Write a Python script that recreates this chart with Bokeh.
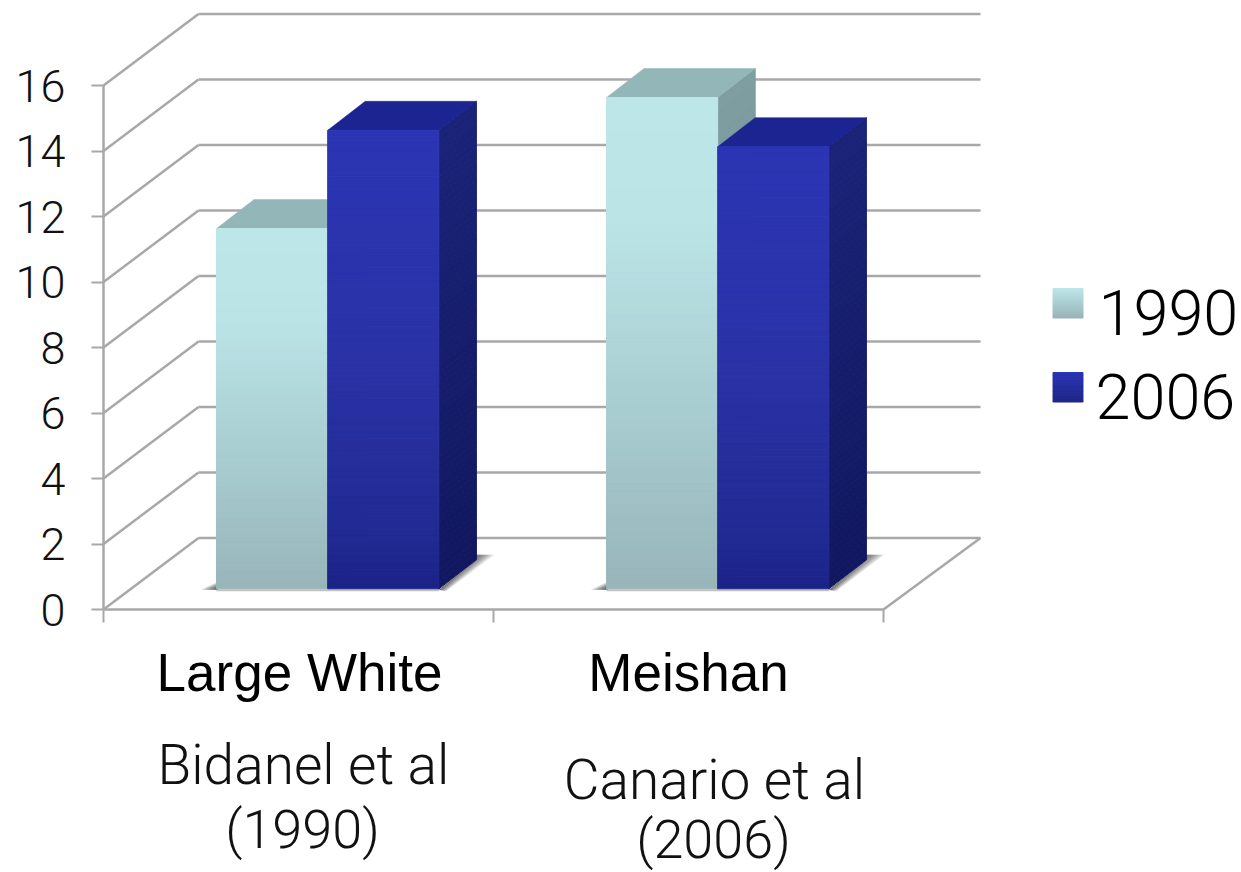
import numpy as np
from bokeh.core.properties import value
from bokeh.embed import file_html
from bokeh.resources import INLINE
from bokeh.plotting import figure
from bokeh.models import FixedTicker, Range1d, LinearAxis

# ---- data ----
categories = ["Large White", "Meishan"]
sources = [["Bidanel et al", "(1990)"], ["Canario et al", "(2006)"]]
series_names = ["1990", "2006"]
values_1990 = [11.0, 15.0]
values_2006 = [14.0, 13.5]
y_ticks = [0, 2, 4, 6, 8, 10, 12, 14, 16]
x_ticks = [0, 1, 2]

# ---- layout constants (reference pixels) ----
W, H = 1241, 872
AX_X, AX_Y = 103.0, 609.0          # pixel of x=0, y=0
PX_CAT, PX_VAL = 390.0, 32.75      # pixels per category / per value unit
FONT = "Liberation Sans"
FONT_LIGHT = "Roboto Light"


def X(px):
    return (px - AX_X) / PX_CAT


def Y(py):
    return (AX_Y - py) / PX_VAL


def DX(px):
    return px / PX_CAT


def DY(px):
    return px / PX_VAL


WALL_DX, WALL_DY = DX(95), DY(71.5)
BAR_W = DX(111.2)
BAR_BASE = DY(20.7)
BAR_SHIFT = DX(29.2)
SIDE_DX, SIDE_DY = DX(37.5), DY(29)

GRID = "#a8a8a8"

p = figure(width=W, height=H, output_backend="svg", toolbar_location=None,
           x_range=Range1d(X(0), X(W)), y_range=Range1d(Y(H), Y(0)),
           min_border_left=0, min_border_right=0, min_border_top=0, min_border_bottom=0,
           x_axis_type=None, y_axis_type=None)
p.outline_line_color = None
p.xgrid.visible = False
p.ygrid.visible = False
p.background_fill_color = "white"

# axes, fixed at the chart's origin
yax = LinearAxis(fixed_location=0, ticker=FixedTicker(ticks=y_ticks), bounds=(0, 16),
                 axis_line_color=GRID, axis_line_width=2.5,
                 major_tick_line_color=GRID, major_tick_line_width=2,
                 major_tick_out=12, major_tick_in=0, minor_tick_line_color=None,
                 major_label_standoff=26, major_label_text_font=FONT_LIGHT,
                 major_label_text_font_size="45px", major_label_text_color="#111111")
p.add_layout(yax, "left")
xax = LinearAxis(fixed_location=0, ticker=FixedTicker(ticks=x_ticks), bounds=(0, 2),
                 axis_line_color=GRID, axis_line_width=2.5,
                 major_tick_line_color=GRID, major_tick_line_width=2,
                 major_tick_out=13, major_tick_in=0, minor_tick_line_color=None,
                 major_label_overrides={t: "" for t in x_ticks})
p.add_layout(xax, "below")

# walls and floor
lv = np.array(y_ticks, dtype=float)
p.segment(x0=np.zeros_like(lv), y0=lv, x1=np.full_like(lv, WALL_DX), y1=lv + WALL_DY,
          line_color=GRID, line_width=2.5)
p.segment(x0=np.full_like(lv, WALL_DX), y0=lv + WALL_DY, x1=np.full_like(lv, X(980)), y1=lv + WALL_DY,
          line_color=GRID, line_width=2.5)
p.line(x=[2, X(980)], y=[0, WALL_DY], line_color=GRID, line_width=2.5)


def hex2rgb(c):
    return np.array([int(c[i:i + 2], 16) for i in (1, 3, 5)], dtype=float)


def ramp(stops, n):
    pos = [s[0] for s in stops]
    cols = np.array([hex2rgb(s[1]) for s in stops])
    t = np.linspace(0, 1, n)
    out = []
    for ti in t:
        rgb = [np.interp(ti, pos, cols[:, k]) for k in range(3)]
        out.append("#%02x%02x%02x" % tuple(int(round(v)) for v in rgb))
    return out


def shadow(x_left, x_right):
    base = BAR_BASE
    for g in np.linspace(1.0, 0.1, 10):
        # left wedge
        p.patch(x=[x_left + DX(1), x_left - DX(16) * g, x_left + DX(1)],
                y=[base - DY(1), base - DY(1), base + DY(7) * g],
                fill_color="#333333", fill_alpha=0.12, line_color=None)
        # wedge to the right, behind the side face
        p.patch(x=[x_right, x_right + SIDE_DX, x_right + SIDE_DX, x_right + SIDE_DX + DX(18) * g,
                   x_right + DX(8) * g],
                y=[base - DY(1), base + SIDE_DY, base + SIDE_DY + DY(5),
                   base + SIDE_DY + DY(5), base - DY(2)],
                fill_color="#333333", fill_alpha=0.10, line_color=None)
    p.segment(x0=[x_left], y0=[base - DY(1.5)], x1=[x_right], y1=[base - DY(1.5)],
              line_color="#9a9a9a", line_width=2, line_alpha=0.6)


def bar(x0, val, front, side, top):
    x1 = x0 + BAR_W
    yb, yt = BAR_BASE, BAR_BASE + val
    n = 70
    edges = np.linspace(yt, yb, n + 1)
    fc = ramp(front, n)
    sc = ramp(side, n)
    # right side face
    p.patches(xs=[[x1, x1 + SIDE_DX, x1 + SIDE_DX, x1] for _ in range(n)],
              ys=[[edges[i], edges[i] + SIDE_DY, edges[i + 1] + SIDE_DY, edges[i + 1]] for i in range(n)],
              fill_color=sc, line_color=sc, line_width=1)
    # top face
    p.patch(x=[x0, x1, x1 + SIDE_DX, x0 + SIDE_DX], y=[yt, yt, yt + SIDE_DY, yt + SIDE_DY],
            fill_color=top, line_color=top, line_width=0.5)
    # front face
    p.quad(left=x0, right=x1, top=edges[:-1], bottom=edges[1:],
           fill_color=fc, line_color=fc, line_width=1)


FRONT_A = [(0, "#bde6e9"), (0.25, "#bbe4e7"), (0.6, "#aacfd3"), (1, "#98b5ba")]
SIDE_A = [(0, "#7f9ea1"), (1, "#6d888b")]
TOP_A = "#93b7b9"
FRONT_B = [(0, "#2b35b3"), (0.5, "#2a32a6"), (0.9, "#212a92"), (1, "#1b2388")]
SIDE_B = [(0, "#1a2378"), (1, "#111860")]
TOP_B = "#1b2490"

for i in range(len(categories)):
    x_mid = i + 0.5 + BAR_SHIFT
    xa = x_mid - BAR_W
    shadow(xa, x_mid + BAR_W)
    bar(xa, values_1990[i], FRONT_A, SIDE_A, TOP_A)
    bar(x_mid, values_2006[i], FRONT_B, SIDE_B, TOP_B)


def text(s, px, py, size, align="center", color="#111111", font=FONT):
    # the svg backend draws an "alphabetic" text lower than its anchor, by about 0.37 em
    p.text(x=[X(px)], y=[Y(py - 0.37 * size)], text=[s], text_font=value(font),
           text_font_size=value(f"{size}px"),
           text_align=align, text_baseline="alphabetic", text_color=color)


# category and source labels
cat_px = [299, 688]
src_px = [303, 714]
src_py = [[785, 849], [800, 859]]
for i, c in enumerate(categories):
    text(c, cat_px[i], 692, 53, color="#000000")
    text(sources[i][0], src_px[i], src_py[i][0], 55, font=FONT_LIGHT)
    text(sources[i][1], src_px[i] - 1, src_py[i][1], 54, font=FONT_LIGHT)

# legend
leg_top = [288, 372]
leg_x = [1098, 1095]
leg_base = [335, 419]
for name, top_px, tx, base_px, st in zip(series_names, leg_top, leg_x, leg_base,
                                         ([(0, "#bde6e9"), (1, "#98b5ba")], [(0, "#2b35b3"), (1, "#1f2688")])):
    n = 24
    edges = np.linspace(Y(top_px), Y(top_px + 29.5), n + 1)
    cols = ramp(st, n)
    p.quad(left=X(1052.5), right=X(1082.5), top=edges[:-1], bottom=edges[1:],
           fill_color=cols, line_color=cols, line_width=1)
    text(name, tx, base_px, 63, align="left", color="#000000", font=FONT_LIGHT)

open("out.html", "w").write(file_html(p, INLINE))
